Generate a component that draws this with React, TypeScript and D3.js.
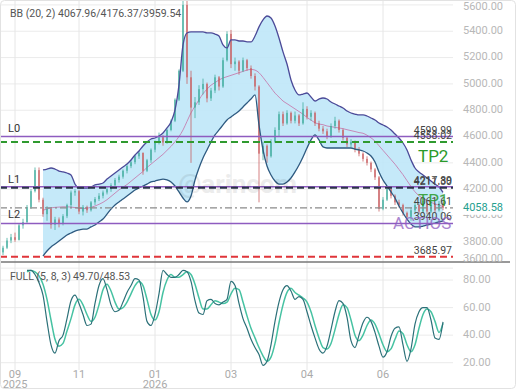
import * as d3 from "d3";

// candles (daily), index 0..110
const open = [
  3720, 3755, 3810, 3835, 3815, 3925, 3950, 4065, 4185, 4345,
  4120, 4010, 4050, 3930, 3970, 3940, 3995, 4080, 4175, 4185,
  4030, 4065, 4040, 4100, 4125, 4150, 4175, 4200, 4230, 4270,
  4295, 4340, 4375, 4405, 4450, 4475, 4340, 4420, 4500, 4555,
  4595, 4555, 4650, 4720, 4880, 5100, 5600, 5050, 4820, 4860,
  4960, 5000, 4890, 4950, 5050, 4980, 5180, 5380, 5150, 5170,
  5100, 5180, 5120, 5060, 4980, 4470, 4530, 4450, 4560, 4650,
  4770, 4700, 4780, 4720, 4760, 4700, 4810, 4750, 4780, 4700,
  4660, 4640, 4600, 4680, 4720, 4650, 4590, 4540, 4560, 4500,
  4470, 4430, 4400, 4350, 4290, 4050, 4120, 4200, 4150, 4100,
  4080, 4020, 3990, 4040, 4080, 4030, 4090, 4030, 4080, 4040,
  4090,
];
const high = [
  3770, 3830, 3860, 3870, 3940, 3975, 4080, 4200, 4365, 4365,
  4135, 4070, 4060, 3990, 3985, 4010, 4090, 4190, 4200, 4195,
  4080, 4075, 4110, 4140, 4170, 4190, 4215, 4245, 4285, 4310,
  4350, 4390, 4420, 4460, 4490, 4480, 4430, 4510, 4570, 4630,
  4610, 4660, 4730, 4890, 5110, 5650, 5680, 5100, 4900, 4990,
  5040, 5010, 4970, 5070, 5060, 5200, 5400, 5410, 5200, 5180,
  5200, 5190, 5140, 5080, 4990, 4560, 4540, 4580, 4670, 4790,
  4790, 4800, 4790, 4790, 4770, 4860, 4830, 4800, 4790, 4720,
  4680, 4660, 4700, 4750, 4730, 4660, 4600, 4580, 4570, 4520,
  4480, 4450, 4410, 4360, 4300, 4140, 4220, 4210, 4160, 4120,
  4090, 4030, 4060, 4100, 4090, 4110, 4100, 4100, 4090, 4110,
  4100,
];
const low = [
  3700, 3745, 3790, 3800, 3810, 3900, 3940, 4050, 4175, 4100,
  3990, 3960, 3900, 3890, 3910, 3925, 3980, 4060, 4150, 4010,
  4000, 4020, 4030, 4080, 4110, 4130, 4160, 4180, 4215, 4250,
  4280, 4320, 4360, 4390, 4430, 4310, 4330, 4400, 4480, 4540,
  4530, 4545, 4640, 4710, 4870, 5090, 5000, 4400, 4740, 4840,
  4920, 4860, 4870, 4930, 4950, 4970, 5170, 5120, 5100, 5070,
  5090, 5100, 5040, 4950, 4100, 4420, 4400, 4440, 4550, 4600,
  4680, 4690, 4700, 4700, 4680, 4690, 4730, 4720, 4680, 4640,
  4620, 4580, 4590, 4660, 4630, 4570, 4520, 4520, 4480, 4450,
  4410, 4380, 4330, 4270, 4030, 4040, 4110, 4130, 4080, 4060,
  4000, 3970, 3960, 4020, 4010, 4020, 4010, 4020, 4020, 4030,
  4040,
];
const close = [
  3755, 3810, 3835, 3815, 3925, 3950, 4065, 4185, 4345, 4120,
  4010, 4050, 3930, 3970, 3940, 3995, 4080, 4175, 4185, 4030,
  4065, 4040, 4100, 4125, 4150, 4175, 4200, 4230, 4270, 4295,
  4340, 4375, 4405, 4450, 4475, 4340, 4420, 4500, 4555, 4595,
  4555, 4650, 4720, 4880, 5100, 5600, 5050, 4820, 4860, 4960,
  5000, 4890, 4950, 5050, 4980, 5180, 5380, 5150, 5170, 5100,
  5180, 5120, 5060, 4980, 4470, 4530, 4450, 4560, 4650, 4770,
  4700, 4780, 4720, 4760, 4700, 4810, 4750, 4780, 4700, 4660,
  4640, 4600, 4680, 4720, 4650, 4590, 4540, 4560, 4500, 4470,
  4430, 4400, 4350, 4290, 4050, 4120, 4200, 4150, 4100, 4080,
  4020, 3990, 4040, 4080, 4030, 4090, 4030, 4080, 4040, 4090,
  4058.58,
];

// Bollinger (20, 2), from candle index 10
const BB_START = 10;
const bbUpper = [
  4346, 4353, 4361, 4353, 4338, 4331, 4323, 4308, 4239, 4209,
  4209, 4209, 4217, 4232, 4239, 4247, 4277, 4300, 4323, 4346,
  4369, 4391, 4422, 4460, 4490, 4528, 4559, 4581, 4589, 4604,
  4627, 4665, 4711, 4802, 4992, 5296, 5387, 5395, 5395, 5395,
  5395, 5387, 5387, 5379, 5364, 5296, 5273, 5334, 5334, 5326,
  5326, 5319, 5319, 5364, 5433, 5486, 5516, 5501, 5440, 5349,
  5243, 5151, 5030, 4954, 4916, 4923, 4931, 4901, 4870, 4885,
  4893, 4885, 4863, 4847, 4832, 4817, 4794, 4779, 4771, 4764,
  4764, 4756, 4741, 4726, 4703, 4688, 4673, 4650, 4619, 4589,
  4551, 4498, 4422, 4361, 4331, 4308, 4285, 4262, 4239, 4217,
  4176.37,
];
const bbMiddle = [
  4040, 4050, 4058, 4062, 4064, 4066, 4066, 4064, 4060, 4055,
  4052, 4055, 4062, 4072, 4085, 4100, 4120, 4145, 4170, 4195,
  4215, 4235, 4260, 4285, 4310, 4335, 4365, 4390, 4415, 4440,
  4465, 4495, 4525, 4560, 4600, 4650, 4715, 4780, 4830, 4880,
  4925, 4960, 4990, 5010, 5030, 5045, 5055, 5065, 5075, 5085,
  5095, 5105, 5110, 5105, 5085, 5050, 5010, 4970, 4930, 4900,
  4870, 4850, 4830, 4810, 4790, 4770, 4745, 4725, 4705, 4695,
  4690, 4680, 4675, 4670, 4665, 4660, 4652, 4645, 4638, 4630,
  4625, 4610, 4590, 4565, 4530, 4495, 4460, 4425, 4390, 4350,
  4310, 4265, 4220, 4180, 4150, 4130, 4115, 4100, 4088, 4078,
  4067.96,
];
const bbLower = [
  3692, 3730, 3761, 3783, 3806, 3829, 3852, 3867, 3882, 3890,
  3897, 3897, 3913, 3928, 3951, 3973, 4011, 4049, 4080, 4103,
  4125, 4148, 4171, 4194, 4209, 4224, 4239, 4255, 4262, 4270,
  4277, 4270, 4255, 4224, 4179, 4133, 4103, 4148, 4270, 4361,
  4437, 4498, 4559, 4612, 4650, 4688, 4726, 4749, 4771, 4794,
  4825, 4855, 4885, 4916, 4688, 4498, 4376, 4308, 4262, 4239,
  4239, 4255, 4285, 4331, 4384, 4445, 4513, 4574, 4612, 4574,
  4521, 4513, 4513, 4513, 4513, 4513, 4513, 4513, 4505, 4498,
  4490, 4475, 4452, 4407, 4331, 4270, 4224, 4179, 4133, 4072,
  4019, 3973, 3935, 3913, 3913, 3920, 3928, 3935, 3943, 3951,
  3959.54,
];

// Full stochastic (5, 8, 3), from candle index 6
const ST_START = 6;
const stochK = [
  87, 87, 84, 78,
  69, 50, 33, 27, 36, 40, 52, 65, 69, 63,
  55, 47, 48, 63, 76, 81, 73, 62, 57, 58,
  64, 71, 76, 81, 80, 68, 50, 47, 55, 70,
  87, 84, 82, 82, 84, 87, 86, 79, 65, 56,
  55, 65, 66, 63, 62, 64, 66, 79, 76, 63,
  52, 45, 37, 31, 26, 18, 21, 33, 50, 64,
  73, 76, 72, 66, 68, 66, 57, 47, 38, 30,
  27, 32, 44, 57, 65, 63, 53, 36, 31, 40,
  49, 53, 50, 42, 32, 24, 28, 39, 45, 46,
  33, 21, 30, 48, 57, 60, 60, 51, 38, 37,
  49.7,
];
const stochD = [
  86, 87, 86, 83,
  77, 66, 51, 37, 32, 34, 43, 52, 62, 66,
  62, 55, 50, 53, 62, 73, 77, 72, 64, 59,
  60, 64, 70, 76, 79, 76, 66, 55, 51, 57,
  71, 80, 84, 82, 82, 84, 86, 84, 77, 67,
  59, 59, 62, 65, 64, 63, 64, 70, 74, 73,
  64, 54, 45, 38, 31, 25, 21, 24, 34, 49,
  62, 71, 74, 71, 69, 67, 64, 57, 47, 38,
  31, 30, 34, 44, 55, 62, 60, 51, 40, 36,
  40, 47, 51, 48, 41, 33, 28, 30, 37, 43,
  41, 33, 28, 33, 45, 55, 59, 57, 50, 42,
  48.53,
];

// x axis ticks (candle index) and labels
const tickIdx = [3, 19, 38, 57, 76, 95];
const tickMonth = ["09", "11", "01", "03", "04", "06"];
const tickYear = ["2025", "", "2026", "", "", ""];

// drawn levels
const levelValues = [4599.99, 4558.02, 4217.89, 4211.3, 4058.58, 3940.06, 3685.97];
const levelLabels = ["4599.99", "4558.02", "4217.89", "4211.30", "4061.61", "3940.06", "3685.97"];
const priceTicks = [3600, 3800, 4000, 4200, 4400, 4600, 4800, 5000, 5200, 5400, 5600];
const stochTicks = [20, 40, 60, 80];

const lastPrice = 4058.58;

export default function App() {
  const W = 520;
  const H = 390;
  const plotRight = 453;
  const mainBottom = 262;
  const lowBottom = 370;
  const font = "Roboto, 'Noto Sans', sans-serif";

  const x = d3.scaleLinear().domain([0, close.length - 1]).range([3, 443]);
  const y = d3.scaleLinear().domain([3646.7, 5637.5]).range([mainBottom, 0]);
  const ys = d3.scaleLinear().domain([14.7, 93.1]).range([lowBottom, mainBottom]);

  const band = d3
    .area<number>()
    .x((d, i) => x(i + BB_START))
    .y0((d, i) => y(bbLower[i]))
    .y1((d) => y(d))
    .curve(d3.curveMonotoneX)(bbUpper);

  const bbLine = (arr: number[]) =>
    d3
      .line<number>()
      .x((d, i) => x(i + BB_START))
      .y((d) => y(d))
      .curve(d3.curveMonotoneX)(arr);

  const stLine = (arr: number[]) =>
    d3
      .line<number>()
      .x((d, i) => x(i + ST_START))
      .y((d) => ys(d))
      .curve(d3.curveMonotoneX)(arr);

  // styles for each level line
  const levelStyle = [
    { stroke: "#8e5cc0", w: 1.5, dash: "" },
    { stroke: "#2f9a2f", w: 2, dash: "7,4" },
    { stroke: "#8e5cc0", w: 1.5, dash: "" },
    { stroke: "#2b3448", w: 2, dash: "7,4" },
    { stroke: "#8a8a8a", w: 1.2, dash: "7,3,2,3" },
    { stroke: "#8e5cc0", w: 1.5, dash: "" },
    { stroke: "#e0353a", w: 2, dash: "7,4" },
  ];

  return (
    <div style={{ position: "fixed", left: 0, top: 0 }}>
      <svg width={W} height={H} style={{ display: "block", fontFamily: font }}>
        <rect x={0} y={0} width={W} height={H} fill="#fff" />
        <defs>
          <clipPath id="mainClip">
            <rect x={0} y={0} width={plotRight} height={mainBottom} />
          </clipPath>
          <clipPath id="lowClip">
            <rect x={0} y={mainBottom} width={plotRight} height={lowBottom - mainBottom} />
          </clipPath>
        </defs>

        {/* grid */}
        {priceTicks.map((t) => (
          <line key={"pg" + t} x1={0} x2={plotRight} y1={y(t)} y2={y(t)} stroke="#ebebeb" />
        ))}
        {stochTicks.map((t) => (
          <line key={"sg" + t} x1={0} x2={plotRight} y1={ys(t)} y2={ys(t)} stroke="#ebebeb" />
        ))}
        {tickIdx.map((t) => (
          <line key={"vg" + t} x1={x(t)} x2={x(t)} y1={0} y2={lowBottom} stroke="#e6e6e6" />
        ))}

        <g clipPath="url(#mainClip)">
          <path d={band || ""} fill="#bfe7f8" opacity={0.9} />
          <path d={bbLine(bbMiddle) || ""} fill="none" stroke="#c58ab8" strokeWidth={1} />

          {close.map((c, i) => {
            const o = open[i];
            const up = c >= o;
            const col = up ? "#3aaa9a" : "#c8585a";
            const top = y(Math.max(o, c));
            const h = Math.max(1, y(Math.min(o, c)) - top);
            return (
              <g key={"c" + i} opacity={0.75}>
                <line x1={x(i)} x2={x(i)} y1={y(high[i])} y2={y(low[i])} stroke={col} strokeWidth={1} />
                <rect x={x(i) - 1} y={top} width={2} height={h} fill={col} />
              </g>
            );
          })}

          <path d={bbLine(bbUpper) || ""} fill="none" stroke="#4b4a98" strokeWidth={1.3} />
          <path d={bbLine(bbLower) || ""} fill="none" stroke="#2e5a80" strokeWidth={1.3} />

          {levelValues.map((v, i) => (
            <line
              key={"lv" + i}
              x1={0}
              x2={plotRight}
              y1={y(v)}
              y2={y(v)}
              stroke={levelStyle[i].stroke}
              strokeWidth={levelStyle[i].w}
              strokeDasharray={levelStyle[i].dash}
            />
          ))}
        </g>

        <text x={178} y={193} fontSize={26} fill="#000" opacity={0.07} fontWeight="bold">
          @arincom
        </text>

        {levelValues.map((v, i) => (
          <text key={"ll" + i} x={452} y={y(v) - 3} fontSize={10.5} fill="#444" textAnchor="end">
            {levelLabels[i]}
          </text>
        ))}

        <text x={8} y={132} fontSize={11} fill="#333">L0</text>
        <text x={8} y={183} fontSize={11} fill="#333">L1</text>
        <text x={8} y={218} fontSize={11} fill="#333">L2</text>

        <text x={418} y={162} fontSize={17} fill="#2a9a2a">TP2</text>
        <text x={418} y={206} fontSize={17} fill="#2a9a2a" opacity={0.85}>TP1</text>
        <text x={393} y={229} fontSize={17} fill="#8e5cc0" opacity={0.75}>ACTIOS</text>

        {/* stochastic */}
        <g clipPath="url(#lowClip)">
          <path d={stLine(stochD) || ""} fill="none" stroke="#46c2a2" strokeWidth={1.5} />
          <path d={stLine(stochK) || ""} fill="none" stroke="#2b7078" strokeWidth={1.2} />
        </g>

        {/* separator */}
        <line x1={0} x2={510} y1={mainBottom} y2={mainBottom} stroke="#777" strokeWidth={1.5} />

        {/* right axis */}
        {priceTicks.map((t) => (
          <text
            key={"pt" + t}
            x={463}
            y={t === 3600 ? 259 : t === 5600 ? 7 : y(t)}
            fontSize={11}
            fill="#b8b8b8"
            dominantBaseline="middle"
          >
            {t.toFixed(2)}
          </text>
        ))}
        <rect x={460} y={y(lastPrice) - 7} width={54} height={14} fill="#fff" />
        <text x={463} y={y(lastPrice)} fontSize={11} fill="#26a08f" dominantBaseline="middle">
          {lastPrice.toFixed(2)}
        </text>
        {stochTicks.map((t) => (
          <text key={"st" + t} x={463} y={ys(t)} fontSize={11} fill="#b8b8b8" dominantBaseline="middle">
            {t.toFixed(2)}
          </text>
        ))}

        {/* x axis labels */}
        {tickIdx.map((t, i) => (
          <g key={"xl" + i}>
            <text x={x(t)} y={378} fontSize={11} fill="#aaa" textAnchor="middle">
              {tickMonth[i]}
            </text>
            <text x={x(t)} y={388} fontSize={11} fill="#aaa" textAnchor="middle">
              {tickYear[i]}
            </text>
          </g>
        ))}

        {/* legends */}
        <text x={10} y={17} fontSize={10.5} fill="#555">BB (20, 2)</text>
        <text x={58} y={17} fontSize={10.5} fill="#555">
          {`${bbMiddle[bbMiddle.length - 1].toFixed(2)}/${bbUpper[bbUpper.length - 1].toFixed(2)}/${bbLower[bbLower.length - 1].toFixed(2)}`}
        </text>
        <text x={10} y={280} fontSize={10.5} fill="#555">FULL (5, 8, 3)</text>
        <text x={73} y={280} fontSize={10.5} fill="#555">
          {`${stochK[stochK.length - 1].toFixed(2)}/${stochD[stochD.length - 1].toFixed(2)}`}
        </text>

        <rect x={0.5} y={0.5} width={515} height={388} rx={4} fill="none" stroke="#e2e2e2" />
      </svg>
    </div>
  );
}
